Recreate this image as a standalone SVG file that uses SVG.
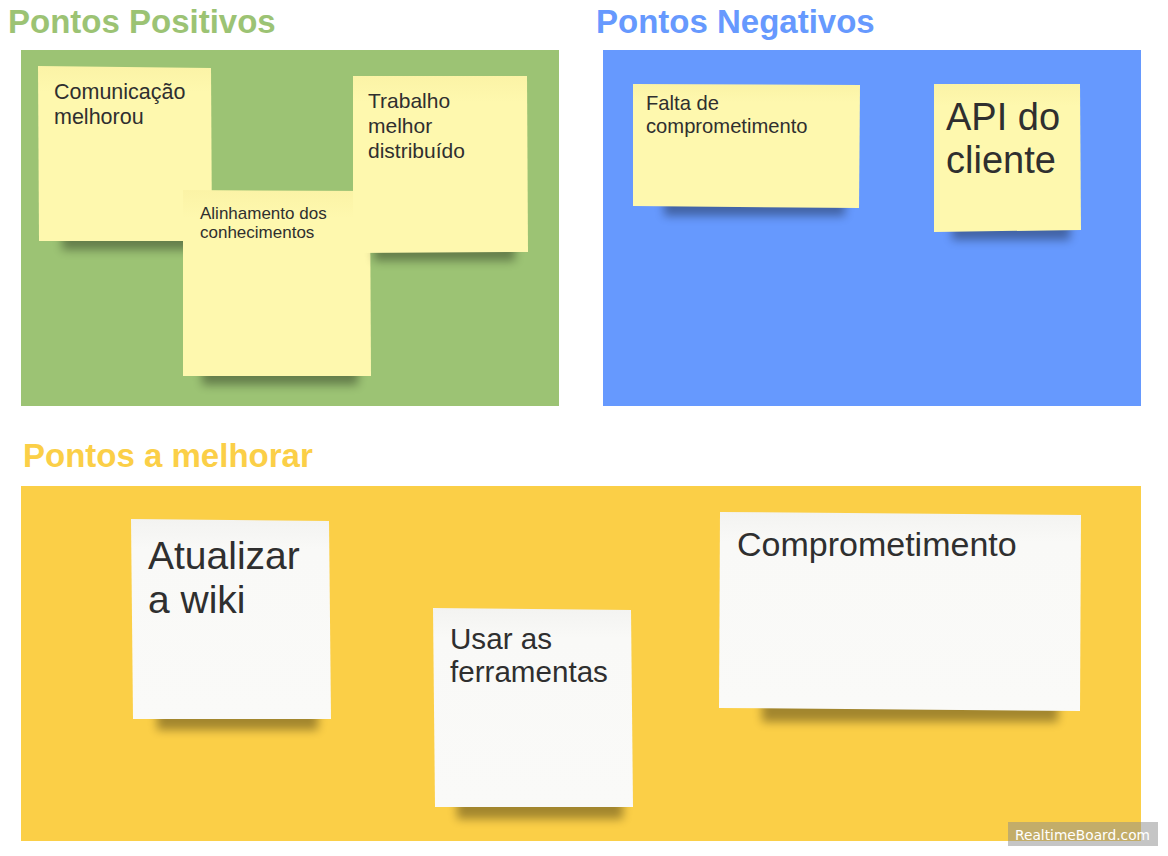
<svg xmlns="http://www.w3.org/2000/svg" width="1168" height="856" viewBox="0 0 1168 856">
<style>
.title{font-family:"Liberation Sans",Arial,sans-serif;font-weight:bold;font-size:33px}
.t{font-family:"Liberation Sans",Arial,sans-serif;fill:#2f2f2f}
.yel{fill:url(#gy)}
.wht{fill:url(#gw)}
.sh{fill:#000;opacity:0.35;filter:url(#blur)}
</style>
<defs>
<linearGradient id="gy" x1="0" y1="0" x2="0" y2="1">
<stop offset="0" stop-color="#fbf3a6"/>
<stop offset="0.15" stop-color="#fef8ae"/>
<stop offset="1" stop-color="#fef8ae"/>
</linearGradient>
<linearGradient id="gw" x1="0" y1="0" x2="0" y2="1">
<stop offset="0" stop-color="#f3f3f1"/>
<stop offset="0.15" stop-color="#f9f9f7"/>
<stop offset="1" stop-color="#fafaf8"/>
</linearGradient>
<filter id="blur" x="-20%" y="-60%" width="140%" height="220%">
<feGaussianBlur stdDeviation="5"/>
</filter>
</defs>

<g id="frame-positivos">
<rect x="21" y="50" width="538" height="356" fill="#9cc374"/>
<text class="title" x="8" y="33" fill="#9cc374">Pontos Positivos</text>
</g>
<g id="frame-negativos">
<rect x="603" y="50" width="538" height="356" fill="#6699fe"/>
<text class="title" x="596" y="33" fill="#6699fe">Pontos Negativos</text>
</g>
<g id="frame-melhorar">
<rect x="21" y="486" width="1120" height="355" fill="#fbcf47"/>
<text class="title" x="23" y="467" fill="#fbcf47">Pontos a melhorar</text>
</g>

<g id="note-comunicacao">
<rect class="sh" x="62" y="228" width="136" height="22"/>
<polygon class="yel" points="38,66 211,68 212,241 39,241"/>
<text class="t" font-size="21.5"><tspan x="54" y="99">Comunicação</tspan><tspan x="54" y="124">melhorou</tspan></text>
</g>
<g id="note-alinhamento">
<rect class="sh" x="202" y="363" width="156" height="22"/>
<polygon class="yel" points="183,190 370,191 371,376 183,376"/>
<text class="t" font-size="17"><tspan x="200" y="219">Alinhamento dos</tspan><tspan x="200" y="238">conhecimentos</tspan></text>
</g>
<g id="note-trabalho">
<rect class="sh" x="374" y="239" width="141" height="22"/>
<polygon class="yel" points="353,76 527,76 528,252 353,253"/>
<text class="t" font-size="21"><tspan x="368" y="108">Trabalho</tspan><tspan x="368" y="133">melhor</tspan><tspan x="368" y="158">distribuído</tspan></text>
</g>
<g id="note-falta">
<rect class="sh" x="664" y="194" width="181" height="22"/>
<polygon class="yel" points="633,84 860,85 859,208 633,206"/>
<text class="t" font-size="20.2"><tspan x="646" y="110">Falta de</tspan><tspan x="646" y="133">comprometimento</tspan></text>
</g>
<g id="note-api">
<rect class="sh" x="952" y="218" width="118" height="22"/>
<polygon class="yel" points="934,84 1080,84 1081,230 934,232"/>
<text class="t" font-size="38"><tspan x="946" y="130">API do</tspan><tspan x="946" y="173">cliente</tspan></text>
</g>

<g id="note-wiki">
<rect class="sh" x="157" y="706" width="161" height="24"/>
<polygon class="wht" points="131,519 329,521 331,719 133,719"/>
<text class="t" font-size="39"><tspan x="148" y="569">Atualizar</tspan><tspan x="148" y="613">a wiki</tspan></text>
</g>
<g id="note-ferramentas">
<rect class="sh" x="457" y="795" width="166" height="24"/>
<polygon class="wht" points="433,608 631,610 633,807 435,807"/>
<text class="t" font-size="29.6"><tspan x="450" y="649">Usar as</tspan><tspan x="450" y="682">ferramentas</tspan></text>
</g>
<g id="note-comprometimento">
<rect class="sh" x="762" y="698" width="296" height="24"/>
<polygon class="wht" points="720,512 1081,515 1080,711 719,708"/>
<text class="t" font-size="34"><tspan x="737" y="556">Comprometimento</tspan></text>
</g>

<g id="watermark">
<rect x="1008" y="822" width="150" height="24" fill="#8c8c8c" fill-opacity="0.5"/>
<text x="1015" y="840" font-family="'DejaVu Sans',sans-serif" font-size="14" fill="#ffffff" textLength="135" lengthAdjust="spacingAndGlyphs">RealtimeBoard.com</text>
</g>
</svg>
